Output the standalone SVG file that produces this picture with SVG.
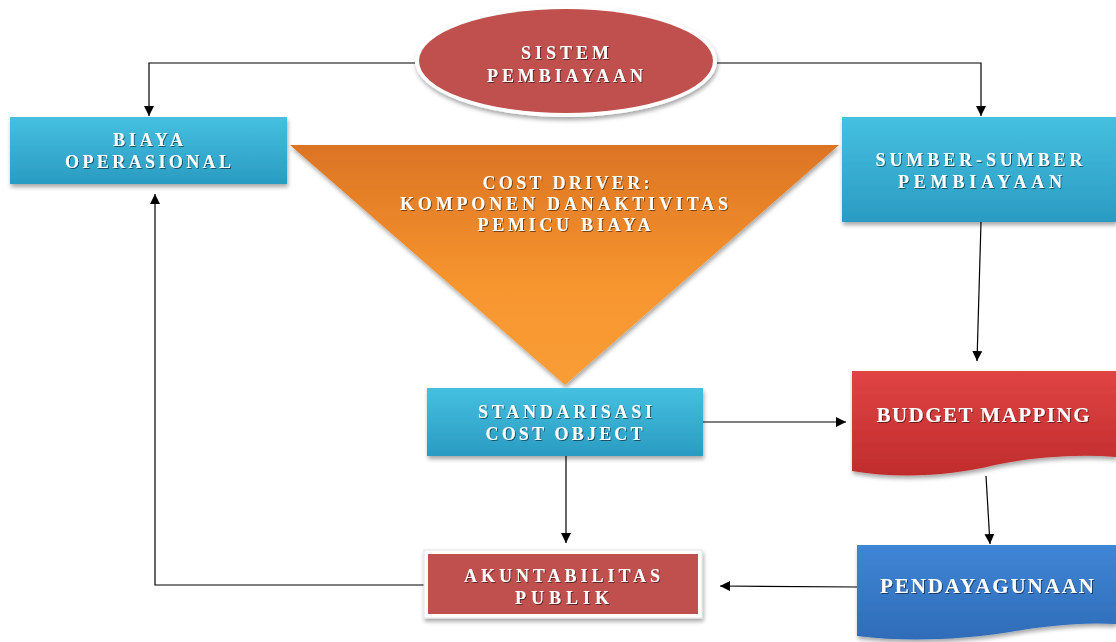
<svg xmlns="http://www.w3.org/2000/svg" width="1116" height="642" viewBox="0 0 1116 642">
<defs>
<linearGradient id="gBlue" x1="0" y1="0" x2="0" y2="1"><stop offset="0" stop-color="#45c0e0"/><stop offset="1" stop-color="#2a9bc2"/></linearGradient>
<linearGradient id="gOrange" x1="0" y1="0" x2="0" y2="1"><stop offset="0" stop-color="#dc7424"/><stop offset="0.6" stop-color="#f7962f"/><stop offset="1" stop-color="#f99d36"/></linearGradient>
<linearGradient id="gRed" x1="0" y1="0" x2="0" y2="1"><stop offset="0" stop-color="#e04444"/><stop offset="1" stop-color="#c02c2c"/></linearGradient>
<linearGradient id="gBlue2" x1="0" y1="0" x2="0" y2="1"><stop offset="0" stop-color="#3f86d6"/><stop offset="1" stop-color="#2f6cb8"/></linearGradient>
<filter id="sh" x="-10%" y="-10%" width="120%" height="130%"><feDropShadow dx="1" dy="3" stdDeviation="2" flood-color="#000" flood-opacity="0.35"/></filter>
<filter id="tsh" x="-5%" y="-20%" width="110%" height="140%"><feDropShadow dx="1" dy="1" stdDeviation="0.6" flood-color="#000" flood-opacity="0.5"/></filter>
<marker id="arr" viewBox="0 0 10 10" refX="10" refY="5" markerWidth="10" markerHeight="10" markerUnits="userSpaceOnUse" orient="auto"><path d="M0,0 L10,5 L0,10 Z" fill="#000"/></marker>
</defs>
<style>
.lbl{font-family:"Liberation Serif","DejaVu Serif",serif;font-weight:bold;font-size:18px;fill:#fff;text-anchor:middle;}
.big{font-size:21px;}
.con{stroke:#000;stroke-width:1.2;fill:none;}
</style>
<rect width="1116" height="642" fill="#fff"/>

<g id="connectors">
<polyline class="con" points="415,63 149,63 149,116" marker-end="url(#arr)"/>
<polyline class="con" points="717,63 981,63 981,116" marker-end="url(#arr)"/>
<line class="con" x1="981" y1="222" x2="977" y2="361" marker-end="url(#arr)"/>
<line class="con" x1="703" y1="422" x2="846" y2="422" marker-end="url(#arr)"/>
<line class="con" x1="986" y1="476" x2="990" y2="544" marker-end="url(#arr)"/>
<line class="con" x1="566" y1="456" x2="566" y2="543" marker-end="url(#arr)"/>
<line class="con" x1="857" y1="587" x2="720" y2="586" marker-end="url(#arr)"/>
<polyline class="con" points="425,585 155,585 155,194" marker-end="url(#arr)"/>
</g>

<g id="sistem">
<ellipse cx="566" cy="61" rx="151" ry="56" fill="#fff" filter="url(#sh)"/>
<ellipse cx="566" cy="61" rx="147" ry="52" fill="#c0504d"/>
<g filter="url(#tsh)">
<text class="lbl" x="565" y="59" textLength="88" lengthAdjust="spacing">SISTEM</text>
<text class="lbl" x="565" y="82" textLength="156" lengthAdjust="spacing">PEMBIAYAAN</text>
</g>
</g>

<g id="biaya">
<rect x="10" y="117" width="277" height="67" fill="url(#gBlue)" filter="url(#sh)"/>
<g filter="url(#tsh)">
<text class="lbl" x="148" y="146" textLength="70" lengthAdjust="spacing">BIAYA</text>
<text class="lbl" x="148" y="168" textLength="166" lengthAdjust="spacing">OPERASIONAL</text>
</g>
</g>

<g id="sumber">
<rect x="842" y="117" width="274" height="105" fill="url(#gBlue)" filter="url(#sh)"/>
<g filter="url(#tsh)">
<text class="lbl" x="979" y="166" textLength="207" lengthAdjust="spacing">SUMBER-SUMBER</text>
<text class="lbl" x="980" y="188" textLength="164" lengthAdjust="spacing">PEMBIAYAAN</text>
</g>
</g>

<g id="costdriver">
<polygon points="290,145 839,145 565,385" fill="url(#gOrange)" filter="url(#sh)"/>
<g filter="url(#tsh)">
<text class="lbl" x="566" y="189" textLength="167" lengthAdjust="spacing">COST DRIVER:</text>
<text class="lbl" x="564" y="210" textLength="328" lengthAdjust="spacing">KOMPONEN DANAKTIVITAS</text>
<text class="lbl" x="564" y="231" textLength="173" lengthAdjust="spacing">PEMICU BIAYA</text>
</g>
</g>

<g id="standarisasi">
<rect x="427" y="388" width="276" height="68" fill="url(#gBlue)" filter="url(#sh)"/>
<g filter="url(#tsh)">
<text class="lbl" x="565" y="418" textLength="174" lengthAdjust="spacing">STANDARISASI</text>
<text class="lbl" x="564" y="440" textLength="157" lengthAdjust="spacing">COST OBJECT</text>
</g>
</g>

<g id="budget">
<path d="M852,371 H1116 V457 C1075,454 1035,457 995,465 C950,476 900,479 852,471 Z" fill="url(#gRed)" filter="url(#sh)"/>
<text class="lbl big" x="983" y="422" textLength="213" lengthAdjust="spacing" filter="url(#tsh)">BUDGET MAPPING</text>
</g>

<g id="akuntabilitas">
<rect x="424" y="550" width="278" height="68" fill="#fff" stroke="#e4e4e4" stroke-width="1" filter="url(#sh)"/>
<rect x="428" y="554" width="270" height="60" fill="#c0504d"/>
<g filter="url(#tsh)">
<text class="lbl" x="562" y="582" textLength="196" lengthAdjust="spacing">AKUNTABILITAS</text>
<text class="lbl" x="562" y="604" textLength="94" lengthAdjust="spacing">PUBLIK</text>
</g>
</g>

<g id="pendayagunaan">
<path d="M857,545 H1116 V624 C1080,622 1045,626 1010,632 C960,640 905,642 857,636 Z" fill="url(#gBlue2)" filter="url(#sh)"/>
<text class="lbl big" x="987" y="593" textLength="214" lengthAdjust="spacing" filter="url(#tsh)">PENDAYAGUNAAN</text>
</g>
</svg>
